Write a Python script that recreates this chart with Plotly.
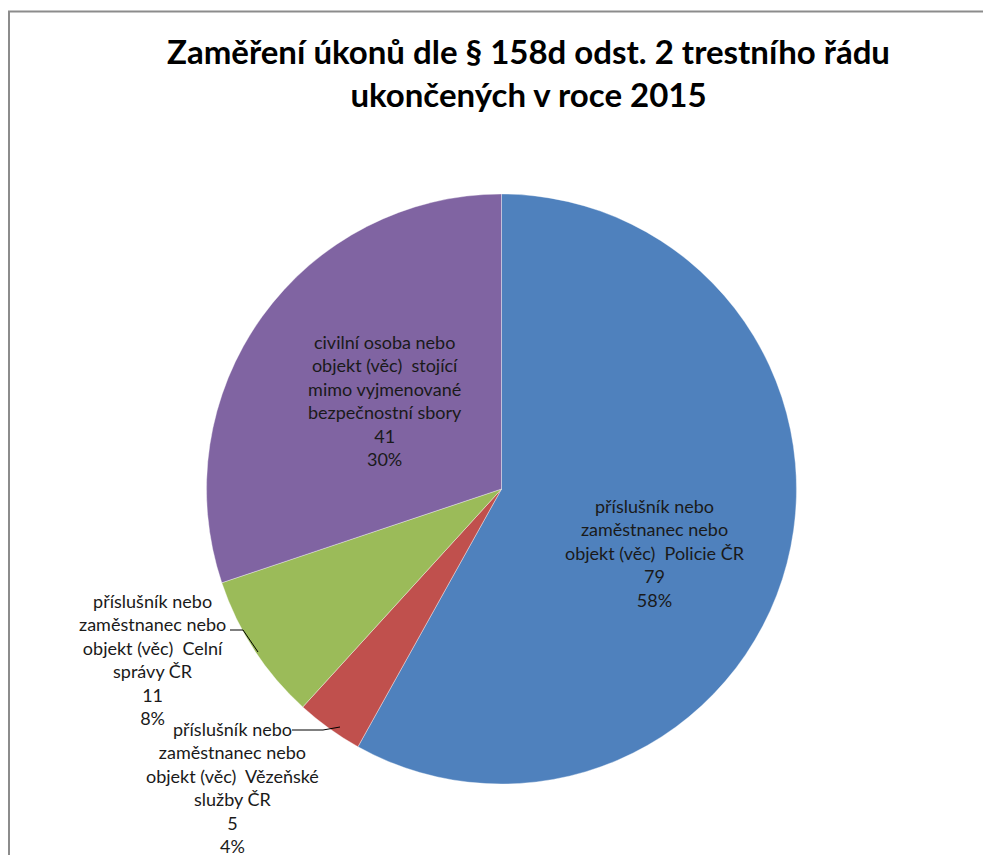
import plotly.graph_objects as go

# body margin is removed by post_script, so figure fills the whole window
OFF = 0
W, H = 983, 855

categories = [
    "příslušník nebo<br>zaměstnanec nebo<br>objekt (věc)  Policie ČR",
    "příslušník nebo<br>zaměstnanec nebo<br>objekt (věc)  Vězeňské<br>služby ČR",
    "příslušník nebo<br>zaměstnanec nebo<br>objekt (věc)  Celní<br>správy ČR",
    "civilní osoba nebo<br>objekt (věc)  stojící<br>mimo vyjmenované<br>bezpečnostní sbory",
]
values = [79, 5, 11, 41]
colors = ["#4F81BD", "#C0504D", "#9BBB59", "#8064A2"]
title_text = "Zaměření úkonů dle § 158d odst. 2 trestního řádu<br>ukončených v roce 2015"

total = sum(values)
pcts = [round(100 * v / total) for v in values]

def px(x):
    return (x - OFF) / W

def py(y):
    return 1 - (y - OFF) / H

fig = go.Figure()
fig.add_trace(go.Pie(
    values=values,
    labels=categories,
    marker=dict(colors=colors, line=dict(color="rgba(255,255,255,0.6)", width=0.6)),
    sort=False,
    direction="clockwise",
    rotation=0,
    textinfo="none",
    hoverinfo="label+value+percent",
    showlegend=False,
    domain=dict(x=[px(206.5), px(796.5)], y=[py(784), py(194)]),
))

label_pos = [(655, 553), (232, 787), (152, 659), (385, 400)]
font = dict(family="Lato, Calibri, sans-serif", size=18, color="#1a1a1a")
annotations = []
for cat, v, p, (x, y) in zip(categories, values, pcts, label_pos):
    annotations.append(dict(
        x=px(x), y=py(y), xref="paper", yref="paper",
        text=f"{cat}<br>{v}<br>{p}%", showarrow=False,
        xanchor="center", yanchor="middle", align="center", font=font,
    ))
annotations.append(dict(
    x=px(528), y=py(72.5), xref="paper", yref="paper", text="<b>" + title_text + "</b>",
    showarrow=False, xanchor="center", yanchor="middle", align="center",
    font=dict(family="Lato, Calibri, sans-serif", size=33, color="#000000"),
))

shapes = [
    dict(type="line", xref="paper", yref="paper", x0=px(8), x1=1, y0=py(11.5), y1=py(11.5),
         line=dict(color="#8c8c8c", width=2)),
    dict(type="line", xref="paper", yref="paper", x0=px(9), x1=px(9), y0=py(11), y1=0,
         line=dict(color="#8c8c8c", width=2)),
    dict(type="path", xref="paper", yref="paper",
         path=f"M {px(230)} {py(630)} L {px(243)} {py(630)} L {px(258)} {py(652)}",
         line=dict(color="#000000", width=1)),
    dict(type="path", xref="paper", yref="paper",
         path=f"M {px(292)} {py(730)} L {px(323)} {py(730)} L {px(340)} {py(727)}",
         line=dict(color="#000000", width=1)),
]

fig.update_layout(
    width=W, height=H,
    margin=dict(l=0, r=0, t=0, b=0),
    paper_bgcolor="white", plot_bgcolor="white",
    annotations=annotations, shapes=shapes,
)

fig.write_html(
    "out.html",
    config={"displayModeBar": False},
    post_script=(
        "document.documentElement.style.margin='0';"
        "document.body.style.margin='0';"
        "document.documentElement.style.overflow='hidden';"
        "document.body.style.overflow='hidden';"
    ),
)
